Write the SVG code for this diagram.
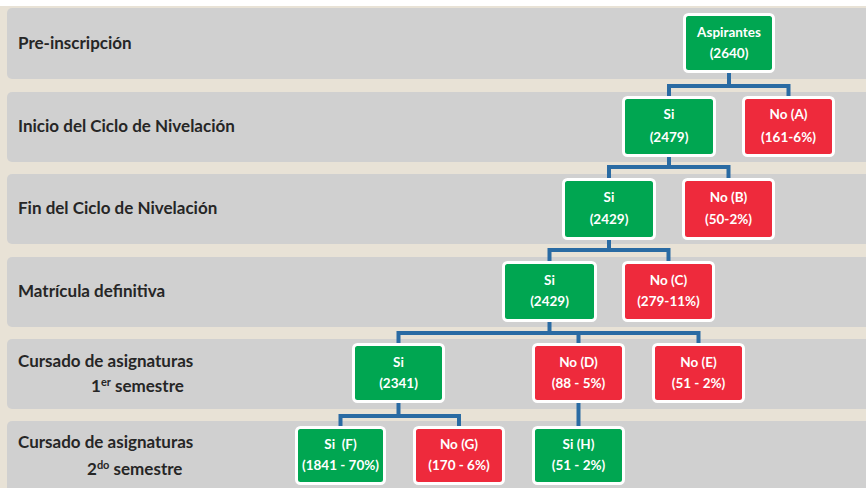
<svg xmlns="http://www.w3.org/2000/svg" width="866" height="488" viewBox="0 0 866 488">
<style>
.band{fill:#D0D0D0}
.lbl{font-family:Lato,"Open Sans","Liberation Sans",sans-serif;font-weight:bold;font-size:17px;fill:#262626}
.box{stroke:#FFFFFF;stroke-width:3}
.g{fill:#00A651}
.r{fill:#EE2A3C}
.nt{font-family:Lato,"Open Sans","Liberation Sans",sans-serif;font-weight:bold;font-size:13.5px;fill:#FFFFFF;text-anchor:middle}
.con{fill:none;stroke:#2A6BA3;stroke-width:4}
</style>
<rect x="0" y="0" width="866" height="488" fill="#FFFFFF"/>
<rect x="0" y="6" width="866" height="482" fill="#E8E2D6"/>
<g id="bands">
<rect class="band" x="7" y="8" width="870" height="71" rx="5"/>
<rect class="band" x="7" y="92" width="870" height="70" rx="5"/>
<rect class="band" x="7" y="174" width="870" height="70" rx="5"/>
<rect class="band" x="7" y="257" width="870" height="70" rx="5"/>
<rect class="band" x="7" y="339" width="870" height="70" rx="5"/>
<rect class="band" x="7" y="421" width="870" height="80" rx="5"/>
</g>
<g id="labels">
<text class="lbl" x="18" y="49">Pre-inscripción</text>
<text class="lbl" x="18" y="132">Inicio del Ciclo de Nivelación</text>
<text class="lbl" x="18" y="214">Fin del Ciclo de Nivelación</text>
<text class="lbl" x="18" y="297">Matrícula definitiva</text>
<text class="lbl" x="18" y="367">Cursado de asignaturas</text>
<text class="lbl" x="91" y="392">1<tspan font-size="11" dy="-6">er</tspan><tspan dy="6"> semestre</tspan></text>
<text class="lbl" x="18" y="448">Cursado de asignaturas</text>
<text class="lbl" x="87" y="475">2<tspan font-size="11" dy="-6">do</tspan><tspan dy="6"> semestre</tspan></text>
</g>
<g id="connectors">
<path class="con" d="M669 98 V86 H788.5 V98 M729 72 V86"/>
<path class="con" d="M609 180 V167 H728.5 V180 M669 156 V167"/>
<path class="con" d="M549.5 263 V250 H668.5 V263 M609 239 V250"/>
<path class="con" d="M398.5 345 V333 H698.5 V345 M578.5 345 V333 M549.5 321 V333"/>
<path class="con" d="M340.5 428 V416 H459 V428 M398.5 402 V416"/>
<path class="con" d="M578.5 402 V428"/>
</g>
<g id="n-aspirantes"><rect class="box g" x="684.5" y="14.5" width="89" height="57" rx="4"/><text class="nt" x="729" y="37">Aspirantes</text><text class="nt" x="729" y="58">(2640)</text></g>
<g id="n-si1"><rect class="box g" x="623.5" y="97.5" width="91" height="58" rx="4"/><text class="nt" x="669" y="119">Si</text><text class="nt" x="669" y="142">(2479)</text></g>
<g id="n-noA"><rect class="box r" x="743.5" y="97.5" width="90" height="58" rx="4"/><text class="nt" x="788.5" y="119">No (A)</text><text class="nt" x="788.5" y="142">(161-6%)</text></g>
<g id="n-si2"><rect class="box g" x="563.5" y="179.5" width="91" height="59" rx="4"/><text class="nt" x="609" y="202">Si</text><text class="nt" x="609" y="224">(2429)</text></g>
<g id="n-noB"><rect class="box r" x="683.5" y="179.5" width="90" height="59" rx="4"/><text class="nt" x="728.5" y="202">No (B)</text><text class="nt" x="728.5" y="224">(50-2%)</text></g>
<g id="n-si3"><rect class="box g" x="503.5" y="262.5" width="92" height="58" rx="4"/><text class="nt" x="549.5" y="285">Si</text><text class="nt" x="549.5" y="306">(2429)</text></g>
<g id="n-noC"><rect class="box r" x="623.5" y="262.5" width="90" height="58" rx="4"/><text class="nt" x="668.5" y="285">No (C)</text><text class="nt" x="668.5" y="306">(279-11%)</text></g>
<g id="n-si4"><rect class="box g" x="353.5" y="344.5" width="90" height="57" rx="4"/><text class="nt" x="398.5" y="367">Si</text><text class="nt" x="398.5" y="388">(2341)</text></g>
<g id="n-noD"><rect class="box r" x="533.5" y="344.5" width="90" height="57" rx="4"/><text class="nt" x="578.5" y="367">No (D)</text><text class="nt" x="578.5" y="388">(88 - 5%)</text></g>
<g id="n-noE"><rect class="box r" x="653.5" y="344.5" width="90" height="57" rx="4"/><text class="nt" x="698.5" y="367">No (E)</text><text class="nt" x="698.5" y="388">(51 - 2%)</text></g>
<g id="n-siF"><rect class="box g" x="296.5" y="427.5" width="88" height="56" rx="4"/><text class="nt" x="340.5" y="449" xml:space="preserve">Si  (F)</text><text class="nt" x="340.5" y="470">(1841 - 70%)</text></g>
<g id="n-noG"><rect class="box r" x="414.5" y="427.5" width="89" height="56" rx="4"/><text class="nt" x="459" y="449">No (G)</text><text class="nt" x="459" y="470">(170 - 6%)</text></g>
<g id="n-siH"><rect class="box g" x="533.5" y="427.5" width="90" height="56" rx="4"/><text class="nt" x="578.5" y="449">Si (H)</text><text class="nt" x="578.5" y="470">(51 - 2%)</text></g>
</svg>
